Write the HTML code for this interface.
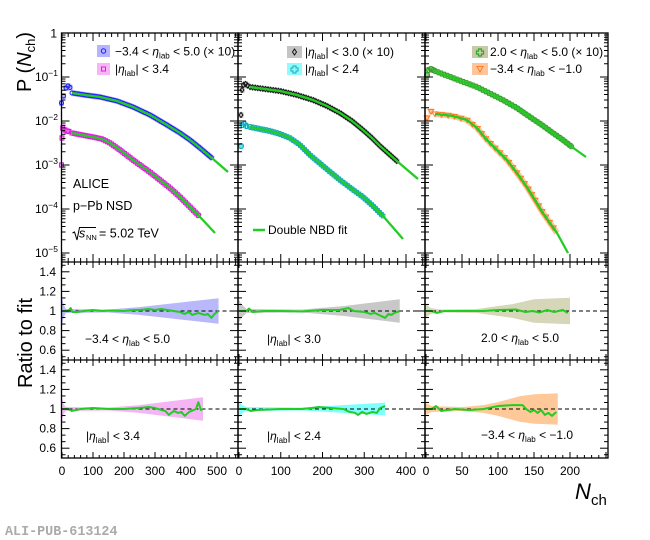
<!DOCTYPE html>
<html><head><meta charset="utf-8">
<style>
html,body{margin:0;padding:0;background:#fff;}
svg{display:block;font-family:"Liberation Sans",Arial,sans-serif;}
</style></head><body>
<svg id="s" width="650" height="540" viewBox="0 0 650 540" xmlns="http://www.w3.org/2000/svg">
<rect x="0" y="0" width="650" height="540" fill="#fff"/>
<g id="data"></g>
<g id="axes"></g>
<g id="txt" font-size="12" fill="#000">
  <!-- top y labels -->
  <text x="57" y="37.5" text-anchor="end">1</text>
  <text x="58" y="81" text-anchor="end">10<tspan font-size="8.5" dy="-5">−1</tspan></text>
  <text x="58" y="125" text-anchor="end">10<tspan font-size="8.5" dy="-5">−2</tspan></text>
  <text x="58" y="169" text-anchor="end">10<tspan font-size="8.5" dy="-5">−3</tspan></text>
  <text x="58" y="213" text-anchor="end">10<tspan font-size="8.5" dy="-5">−4</tspan></text>
  <text x="58" y="257" text-anchor="end">10<tspan font-size="8.5" dy="-5">−5</tspan></text>
  <!-- ratio y labels -->
  <text x="56" y="276" text-anchor="end">1.4</text>
  <text x="56" y="295.5" text-anchor="end">1.2</text>
  <text x="56" y="315" text-anchor="end">1</text>
  <text x="56" y="334.5" text-anchor="end">0.8</text>
  <text x="56" y="354" text-anchor="end">0.6</text>
  <text x="56" y="374" text-anchor="end">1.4</text>
  <text x="56" y="393.5" text-anchor="end">1.2</text>
  <text x="56" y="413" text-anchor="end">1</text>
  <text x="56" y="432.5" text-anchor="end">0.8</text>
  <text x="56" y="452" text-anchor="end">0.6</text>
  <!-- x labels -->
  <g text-anchor="middle">
    <text x="62" y="475">0</text><text x="93" y="475">100</text><text x="124" y="475">200</text><text x="155" y="475">300</text><text x="186" y="475">400</text><text x="217" y="475">500</text>
    <text x="239" y="475">0</text><text x="280.75" y="475">100</text><text x="322.5" y="475">200</text><text x="364.25" y="475">300</text><text x="406" y="475">400</text>
    <text x="426" y="475">0</text><text x="462" y="475">50</text><text x="498" y="475">100</text><text x="534" y="475">150</text><text x="570" y="475">200</text>
  </g>
  <!-- axis titles -->
  <text transform="translate(31,92) rotate(-90)" font-size="20">P (<tspan font-style="italic">N</tspan><tspan font-size="13" dy="4">ch</tspan><tspan dy="-4">)</tspan></text>
  <text transform="translate(32,388) rotate(-90)" font-size="20">Ratio to fit</text>
  <text x="575" y="499" font-size="22" font-style="italic">N</text>
  <text x="591" y="505" font-size="15">ch</text>
  <text x="5" y="535" font-family="'Liberation Mono',monospace" font-weight="bold" font-size="13.4" fill="#aaaaaa">ALI-PUB-613124</text>
  <!-- ALICE labels -->
  <text x="73" y="188" font-size="12.5">ALICE</text>
  <text x="73" y="210" font-size="12.5">p−Pb NSD</text>
  <path d="M72.5,233 L74.5,232 L77,240 L79.5,227.5 L96,227.5" fill="none" stroke="#000" stroke-width="1"/>
  <text x="79" y="237.5" font-size="12.5" font-style="italic">s</text>
  <text x="86" y="240" font-size="7.5">NN</text>
  <text x="99" y="237.5" font-size="12.5">= 5.02 TeV</text>
  <!-- legends -->
  <rect x="97" y="45" width="13" height="12" fill="#b4b4ff"/>
  <circle cx="103.5" cy="51" r="2.2" fill="none" stroke="#1c1cff" stroke-width="1"/>
  <text x="115" y="55.5">−3.4 &lt;  <tspan font-style="italic">η</tspan><tspan font-size="8" dy="3">lab</tspan><tspan dy="-3"> &lt; 5.0 (× 10)</tspan></text>
  <rect x="97" y="63" width="13" height="12" fill="#f7b4f7"/>
  <rect x="101.5" y="67" width="4" height="4" fill="none" stroke="#e01ee0" stroke-width="1"/>
  <text x="115" y="73">|<tspan font-style="italic">η</tspan><tspan font-size="8" dy="3">lab</tspan><tspan dy="-3">| &lt; 3.4</tspan></text>

  <rect x="287" y="46" width="15" height="12" fill="#c4c4c4"/>
  <path d="M294.5,49 L296.5,52 L294.5,55 L292.5,52 Z" fill="none" stroke="#111" stroke-width="1"/>
  <text x="305" y="56">|<tspan font-style="italic">η</tspan><tspan font-size="8" dy="3">lab</tspan><tspan dy="-3">| &lt; 3.0 (× 10)</tspan></text>
  <rect x="287" y="63" width="15" height="12" fill="#8ffcff"/>
  <path d="M293,66 h3 v2 h2 v3 h-2 v2 h-3 v-2 h-2 v-3 h2 Z" fill="none" stroke="#1fa8b8" stroke-width="1"/>
  <text x="305" y="73">|<tspan font-style="italic">η</tspan><tspan font-size="8" dy="3">lab</tspan><tspan dy="-3">| &lt; 2.4</tspan></text>
  <line x1="253" y1="230" x2="265" y2="230" stroke="#22cc22" stroke-width="2.5"/>
  <text x="268" y="234">Double NBD fit</text>

  <rect x="472" y="46" width="16" height="12" fill="#c9c9a8"/>
  <path d="M478.5,49 h3 v2 h2 v3 h-2 v2 h-3 v-2 h-2 v-3 h2 Z" fill="none" stroke="#2ea52e" stroke-width="1.2"/>
  <text x="490" y="56">2.0 &lt;  <tspan font-style="italic">η</tspan><tspan font-size="8" dy="3">lab</tspan><tspan dy="-3"> &lt; 5.0 (× 10)</tspan></text>
  <rect x="472" y="63" width="16" height="12" fill="#ffc59a"/>
  <path d="M477,66.5 L483,66.5 L480,72 Z" fill="none" stroke="#ff7a22" stroke-width="1"/>
  <text x="490" y="73">−3.4 &lt;  <tspan font-style="italic">η</tspan><tspan font-size="8" dy="3">lab</tspan><tspan dy="-3"> &lt; −1.0</tspan></text>

  <!-- ratio labels -->
  <text x="85" y="343">−3.4 &lt;  <tspan font-style="italic">η</tspan><tspan font-size="8" dy="3">lab</tspan><tspan dy="-3"> &lt; 5.0</tspan></text>
  <text x="86" y="440">|<tspan font-style="italic">η</tspan><tspan font-size="8" dy="3">lab</tspan><tspan dy="-3">| &lt; 3.4</tspan></text>
  <text x="267" y="343">|<tspan font-style="italic">η</tspan><tspan font-size="8" dy="3">lab</tspan><tspan dy="-3">| &lt; 3.0</tspan></text>
  <text x="267" y="440">|<tspan font-style="italic">η</tspan><tspan font-size="8" dy="3">lab</tspan><tspan dy="-3">| &lt; 2.4</tspan></text>
  <text x="481" y="342">2.0 &lt;  <tspan font-style="italic">η</tspan><tspan font-size="8" dy="3">lab</tspan><tspan dy="-3"> &lt; 5.0</tspan></text>
  <text x="481" y="439">−3.4 &lt;  <tspan font-style="italic">η</tspan><tspan font-size="8" dy="3">lab</tspan><tspan dy="-3"> &lt; −1.0</tspan></text>
</g>
</svg>
<script>
(function(){
const NS='http://www.w3.org/2000/svg';
const D=document.getElementById('data'), A=document.getElementById('axes');
function E(t,a,p){const e=document.createElementNS(NS,t);for(const k in a)e.setAttribute(k,a[k]);p.appendChild(e);return e;}
const GREEN='#22cc22';
const P=[{L:61.5,R:238,x0:62,sc:0.31,maj:100,min:20,max:580},
         {L:238,R:425,x0:239,sc:0.4175,maj:100,min:20,max:450},
         {L:425,R:608,x0:426,sc:0.72,maj:50,min:10,max:260}];
const T=33,B1=262,B2=360,B3=458;
function pstr(a){return a.map(p=>p[0].toFixed(2)+','+p[1].toFixed(2)).join(' ');}
function along(pts,step){const out=[pts[0]];let since=0;
  for(let i=1;i<pts.length;i++){const [x0,y0]=pts[i-1],[x1,y1]=pts[i];const d=Math.hypot(x1-x0,y1-y0);
    let t=step-since;while(t<=d){out.push([x0+(x1-x0)*t/d,y0+(y1-y0)*t/d]);t+=step;}since=d-(t-step);}
  return out;}
function marker(type,x,y,c){
  if(type==='circle')E('circle',{cx:x,cy:y,r:2,fill:'none',stroke:c,'stroke-width':1},D);
  else if(type==='square')E('rect',{x:x-2,y:y-2,width:4,height:4,fill:'none',stroke:c,'stroke-width':1},D);
  else if(type==='diamond')E('path',{d:`M${x},${y-2.6}L${x+2},${y}L${x},${y+2.6}L${x-2},${y}Z`,fill:'none',stroke:c,'stroke-width':1},D);
  else if(type==='cross')E('path',{d:`M${x-1},${y-2.5}h2v1.5h1.5v2h-1.5v1.5h-2v-1.5h-1.5v-2h1.5Z`,fill:'none',stroke:c,'stroke-width':1},D);
  else if(type==='tri')E('path',{d:`M${x-2.8},${y-2}L${x+2.8},${y-2}L${x},${y+2.6}Z`,fill:'none',stroke:c,'stroke-width':1},D);
}
const S=[
 {pre:[[61.5,103],[63.5,96],[66,88],[68,86],[70,87.5]],
  data:[[72,93],[85,95],[100,97],[117,101],[133,107],[150,115],[167,125],[180,133],[190,140],[200,148],[213,159]],
  fit:[[228,172]],mk:'circle',col:'#1c1cff',band:'#b4b4ff',step:2.3},
 {pre:[[61.5,165],[62,138],[62.7,128],[65,130],[67,131],[69,131.5]],
  data:[[72,133],[82,135],[93,137],[102,139],[110,143],[120,150],[133,160],[147,170],[160,180],[170,188],[180,197],[190,207],[200,217]],
  fit:[[215,233]],mk:'square',col:'#e01ee0',band:'#f7b4f7',step:2.3},
 {pre:[[241,115],[242,90],[243.5,85],[245.5,84],[247.5,85.5]],
  data:[[250,87],[265,89],[280,91],[297,95],[313,100],[327,106],[340,113],[352,121],[363,130],[372,138],[380,146],[389,154],[398,162]],
  fit:[[418,179]],mk:'diamond',col:'#111',band:'#c4c4c4',step:2.6},
 {pre:[[241,146],[242.5,125],[244.5,124],[246.5,126]],
  data:[[250,127],[260,129],[270,131],[280,134],[290,138],[300,145],[310,155],[323,166],[340,180],[352,189],[363,197],[373,206],[383,216]],
  fit:[[403,239]],mk:'cross',col:'#1fa8b8',band:'#8ffcff',step:2.8},
 {pre:[[427,75],[428.5,70],[431,69],[433,70]],
  data:[[435,71],[453,78],[477,87],[503,100],[517,108],[530,117],[542,125],[553,133],[563,140],[572,147]],
  fit:[[586,157]],mk:'cross',col:'#2ea52e',band:'#c9c9a8',step:3.4},
 {pre:[[427,118],[431,111.5]],
  data:[[435,114],[445,115],[453,116],[467,120],[477,128],[487,140],[497,150],[507,160],[517,173],[527,187],[535,200],[543,213],[550,223],[557,233]],
  fit:[[568,253]],mk:'tri',col:'#ff7a22',band:'#ffc59a',step:6.6}
];
S.forEach(s=>{
  E('polyline',{points:pstr(s.data),fill:'none',stroke:s.band,'stroke-width':6,'stroke-linejoin':'round'},D);
  s.pre.forEach(p=>E('rect',{x:p[0]-2.5,y:p[1]-3,width:5,height:6,fill:s.band},D));
});
S.forEach(s=>{
  s.pre.forEach(p=>marker(s.mk,p[0],p[1],s.col));
  along(s.data,s.step).forEach(p=>marker(s.mk,p[0],p[1],s.col));
  E('polyline',{points:pstr(s.data.concat(s.fit)),fill:'none',stroke:GREEN,'stroke-width':2.3,'stroke-linejoin':'round'},D);
});
// ratio panels
function lin(arr,N){if(N<=arr[0][0])return arr[0][1];for(let i=1;i<arr.length;i++){if(N<=arr[i][0]){const a=arr[i-1],b=arr[i];return a[1]+(b[1]-a[1])*(N-a[0])/(b[0]-a[0]);}}return arr[arr.length-1][1];}
const R=[
 {p:0,yc:311,end:505,band:'#b8b8fa',hw:[[0,0.15],[4,0.08],[12,0.02],[150,0.015],[250,0.04],[505,0.13]],
  r:[[0,1],[10,1.0],[20,1.0],[28,1.03],[34,0.99],[50,0.99],[70,1.0],[100,1.01],[130,1.0],[150,1.005],[200,1.0],[230,1.01],[250,1.01],[280,1.02],[300,1.01],[320,1.02],[340,1.01],[360,1.0],[380,0.99],[395,0.97],[410,0.99],[420,0.96],[440,0.98],[460,0.96],[470,0.97],[482,0.93],[492,0.97],[505,1.0]]},
 {p:0,yc:409,end:455,band:'#f5b5f5',hw:[[0,0.12],[4,0.06],[12,0.02],[150,0.015],[250,0.04],[455,0.12]],
  r:[[0,1],[20,1.0],[32,0.98],[60,1.0],[100,1.01],[150,1.0],[200,1.0],[250,1.01],[280,1.02],[300,1.01],[320,0.99],[333,0.98],[345,0.94],[360,0.98],[375,0.96],[385,0.97],[396,0.93],[410,0.97],[425,0.99],[432,1.0],[440,1.07],[448,0.99],[455,1.0]]},
 {p:1,yc:311,end:385,band:'#c8c8c8',hw:[[0,0.12],[4,0.08],[18,0.02],[150,0.015],[250,0.05],[385,0.12]],
  r:[[0,1],[18,1.0],[24,1.025],[32,0.99],[45,0.995],[60,1.0],[100,1.0],[150,0.995],[200,1.01],[240,1.01],[262,1.03],[275,1.0],[300,0.99],[315,0.97],[325,0.98],[340,0.95],[350,0.93],[358,0.97],[365,0.96],[372,0.98],[385,1.0]]},
 {p:1,yc:409,end:350,band:'#80ffff',hw:[[0,0.08],[8,0.04],[18,0.02],[150,0.015],[250,0.04],[350,0.065]],
  r:[[0,1],[18,1.0],[28,0.98],[45,0.99],[100,1.0],[150,1.0],[175,1.01],[190,1.02],[220,1.01],[250,1.0],[265,0.97],[278,0.96],[285,0.94],[295,0.97],[305,0.95],[320,0.97],[330,0.96],[338,1.01],[350,1.03]]},
 {p:2,yc:311,end:200,band:'#d6d6b8',hw:[[0,0.07],[6,0.03],[20,0.015],[70,0.02],[120,0.07],[150,0.12],[200,0.135]],
  r:[[0,1],[8,1.0],[15,0.98],[25,1.0],[50,1.0],[80,1.0],[100,1.01],[125,1.015],[138,0.99],[148,1.0],[158,0.985],[168,1.01],[178,0.99],[190,1.01],[197,0.98]]},
 {p:2,yc:409,end:183,band:'#ffc898',hw:[[0,0.06],[8,0.03],[50,0.02],[80,0.04],[100,0.07],[130,0.13],[150,0.15],[183,0.16]],
  r:[[0,1],[8,1.0],[14,1.03],[21,0.98],[40,1.0],[60,0.99],[80,1.0],[100,1.03],[120,1.04],[134,1.04],[139,1.0],[145,0.97],[150,0.99],[155,0.96],[160,0.99],[165,0.94],[170,0.96],[175,0.93],[181,0.97]]}
];
R.forEach(q=>{
  const p=P[q.p];const X=N=>p.x0+p.sc*N, Y=r=>q.yc-(r-1)*98;
  const up=[],lo=[];
  for(let N=0;N<=q.end+0.01;N+=1){const h=lin(q.hw,N);up.push([X(N),Y(1+h)]);lo.push([X(N),Y(1-h)]);}
  E('polygon',{points:pstr(up.concat(lo.reverse())),fill:q.band},D);
  E('line',{x1:p.L,y1:q.yc,x2:p.R,y2:q.yc,stroke:'#000','stroke-width':1,'stroke-dasharray':'4 3'},D);
  E('polyline',{points:pstr(q.r.map(a=>[X(a[0]),Y(a[1])])),fill:'none',stroke:GREEN,'stroke-width':2,'stroke-linejoin':'round'},D);
});
// axes
function L(x1,y1,x2,y2,w){E('line',{x1,y1,x2,y2,stroke:'#000','stroke-width':w||1},A);}
P.forEach(p=>{
  [[T,B1,8,4],[B1,B2,6,3],[B2,B3,6,3]].forEach(([t,b,mj,mn])=>{
    for(let N=0;N<=p.max;N+=p.min){const x=p.x0+p.sc*N;if(x>p.R-1)break;if(x<p.L+0.5)continue;
      const len=(N%p.maj===0)?mj:mn;L(x,t,x,t+len);L(x,b,x,b-len);}
  });
  for(let e=0;e>=-6;e--){for(let k=1;k<=9;k++){const y=T-(e+Math.log10(k))*44;if(y<T-0.1||y>B1-0.5)continue;
    const len=k===1?8:4;L(p.L,y,p.L+len,y);L(p.R,y,p.R-len,y);}}
  [311,409].forEach(yc=>{
    for(let i=-7;i<=7;i++){const v=1+i*0.2/3;const y=yc-(v-1)*98;if(y<yc-49||y>yc+49)continue;
      const len=(i%3===0)?8:4;L(p.L,y,p.L+len,y);L(p.R,y,p.R-len,y);}
  });
  E('rect',{x:p.L,y:T,width:p.R-p.L,height:B3-T,fill:'none',stroke:'#000','stroke-width':1.3},A);
  L(p.L,B1,p.R,B1,1.3);L(p.L,B2,p.R,B2,1.3);
});
})();
</script>
</body></html>
